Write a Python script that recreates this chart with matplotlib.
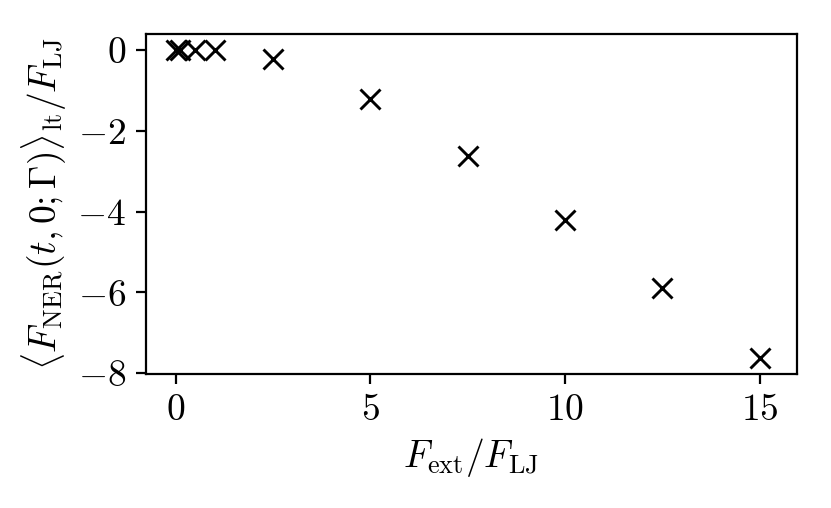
import numpy as np
import matplotlib
matplotlib.use("Agg")
import matplotlib.pyplot as plt

plt.rcParams["mathtext.fontset"] = "cm"
plt.rcParams["font.family"] = "serif"
plt.rcParams["font.serif"] = ["cmr10", "DejaVu Serif"]
plt.rcParams["axes.formatter.use_mathtext"] = True

# external force vs long-time NER force
f_ext = np.array([0.0, 0.1, 0.5, 1.0, 2.5, 5.0, 7.5, 10.0, 12.5, 15.0])
f_ner = np.array([0.0, 0.0, 0.0, 0.0, -0.22, -1.21, -2.62, -4.2, -5.89, -7.63])

fig = plt.figure(figsize=(8.31, 5.08), dpi=100)
ax = fig.add_axes([0.1753, 0.2638, 0.7834, 0.6702])

ax.plot(f_ext, f_ner, "x", color="k", markersize=14, markeredgewidth=2.1)

ax.set_xlim(-0.77, 15.95)
ax.set_ylim(-8.02, 0.41)
ax.set_xticks([0, 5, 10, 15])
ax.set_yticks([0, -2, -4, -6, -8])

for s in ax.spines.values():
    s.set_linewidth(1.6)
ax.tick_params(length=7, width=1.6, labelsize=27, pad=7)

ax.set_xlabel(r"$F_{\mathrm{ext}}/F_{\mathrm{LJ}}$", fontsize=27, labelpad=7)
ax.set_ylabel(r"$\langle F_{\mathrm{NER}}(t,0;\Gamma)\rangle_{\mathrm{lt}}/F_{\mathrm{LJ}}$",
              fontsize=27, labelpad=6)

fig.savefig("out.png", dpi=100)
